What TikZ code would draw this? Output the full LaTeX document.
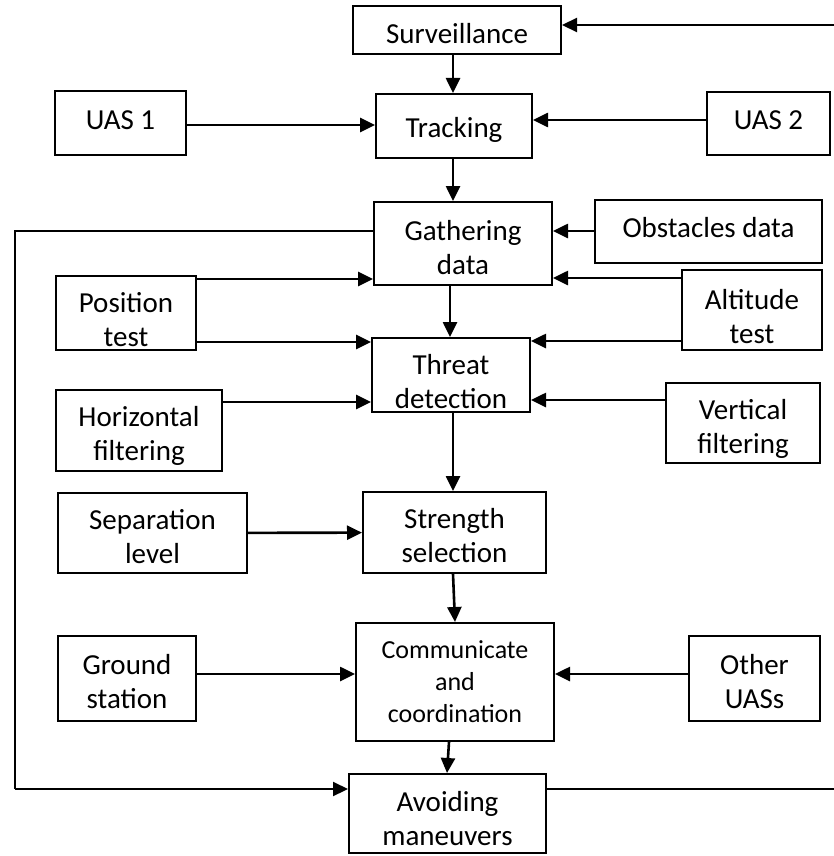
\documentclass[tikz,border=0pt]{standalone}
\usepackage{fontspec}
\setmainfont{Carlito}
\usetikzlibrary{arrows.meta}

\tikzset{
  blk/.style={draw, line width=2pt, rectangle, inner sep=0pt, align=center,
    text depth=0pt, font=\fontsize{29}{34}\selectfont},
  oneline/.style={blk, text height=12pt},
  twoline/.style={blk, text height=60pt},
  twolow/.style={blk, text height=67pt},
  flow/.style={line width=2.6pt, -{Triangle[length=15pt,width=14pt]}},
  loopline/.style={line width=1.7pt},
}

\begin{document}
\begin{tikzpicture}[x=1pt, y=-1pt]

\useasboundingbox (0,0) rectangle (833,856);

% main column
\node[blk, text height=28pt, minimum width=208pt, minimum height=48pt] (surv) at (457,30) {Surveillance};
\node[blk, text height=22pt, minimum width=156pt, minimum height=64pt] (track) at (454,126) {Tracking};
\node[twoline, text height=61pt, minimum width=178pt, minimum height=83pt] (gather) at (463,243.5) {Gathering\\data};
\node[twolow, minimum width=158pt, minimum height=74pt] (threat) at (451,375) {Threat\\detection};
\node[twoline, minimum width=183pt, minimum height=81pt] (strength) at (454.5,532.5) {Strength\\selection};
\node[blk, text height=80pt, minimum width=198pt, minimum height=118pt,
  font=\fontsize{26}{32}\selectfont] (comm) at (455,682) {Communicate\\and\\coordination};
\node[twoline, text height=63pt, minimum width=197pt, minimum height=79pt] (avoid) at (447.5,813.5) {Avoiding\\maneuvers};

% inputs, left side
\node[oneline, minimum width=131pt, minimum height=64pt] (uasA) at (120.5,123) {UAS 1};
\node[twolow, minimum width=140pt, minimum height=74pt] (postest) at (126,313) {Position\\test};
\node[twoline, minimum width=166pt, minimum height=81pt] (hfilt) at (139,430.5) {Horizontal\\filtering};
\node[twoline, minimum width=189pt, minimum height=80pt] (seplev) at (152.5,533) {Separation\\level};
\node[twoline, minimum width=138pt, minimum height=85pt] (ground) at (127,678.5) {Ground\\station};

% inputs, right side
\node[oneline, minimum width=123pt, minimum height=63pt] (uasB) at (768.5,123.5) {UAS 2};
\node[oneline, minimum width=227pt, minimum height=63pt] (obst) at (708.5,231.5) {Obstacles data};
\node[twolow, minimum width=140pt, minimum height=80pt] (alttest) at (752,310) {Altitude\\test};
\node[twoline, minimum width=154pt, minimum height=80pt] (vfilt) at (743,423) {Vertical\\filtering};
\node[twoline, minimum width=131pt, minimum height=85pt] (other) at (754.5,678.5) {Other\\UASs};

% down the column
\draw[flow] (surv.south -| 453,0) -- (track.north -| 453,0);
\draw[flow] (track.south -| 453,0) -- (gather.north -| 453,0);
\draw[flow] (gather.south -| 450,0) -- (threat.north -| 450,0);
\draw[flow] (threat.south -| 453,0) -- (strength.north -| 453,0);
\draw[flow] (strength.south -| 453,0) -- (comm.north -| 455,0);
\draw[flow] ([xshift=-6pt]comm.south) -- ([xshift=-0.5pt]avoid.north);

% side arrows
\draw[flow] (uasA.east |- 0,125) -- (track.west |- 0,125);
\draw[flow] (uasB.west |- 0,120) -- (track.east |- 0,120);
\draw[flow] (obst.west |- 0,231) -- (gather.east |- 0,231);
\draw[flow] (postest.east |- 0,279) -- (gather.west |- 0,279);
\draw[flow] (postest.east |- 0,342) -- (threat.west |- 0,342);
\draw[flow] (alttest.west |- 0,278) -- (gather.east |- 0,278);
\draw[flow] (alttest.west |- 0,341) -- (threat.east |- 0,341);
\draw[flow] (hfilt.east |- 0,402) -- (threat.west |- 0,402);
\draw[flow] (vfilt.west |- 0,400) -- (threat.east |- 0,400);
\draw[flow] (seplev) -- (strength);
\draw[flow] (ground.east |- 0,674) -- (comm.west |- 0,674);
\draw[flow] (other.west |- 0,674) -- (comm.east |- 0,674);

% feedback loops
\draw[loopline] (gather.west |- 0,231) -- (15,231) -- (15,789);
\draw[flow, line width=2.2pt] (15,789) -- (avoid.west |- 0,789);
\draw[loopline] (avoid.east |- 0,789) -- (840,789) -- (840,25);
\draw[flow, line width=2.2pt] (840,25) -- (surv.east |- 0,25);

\end{tikzpicture}
\end{document}
